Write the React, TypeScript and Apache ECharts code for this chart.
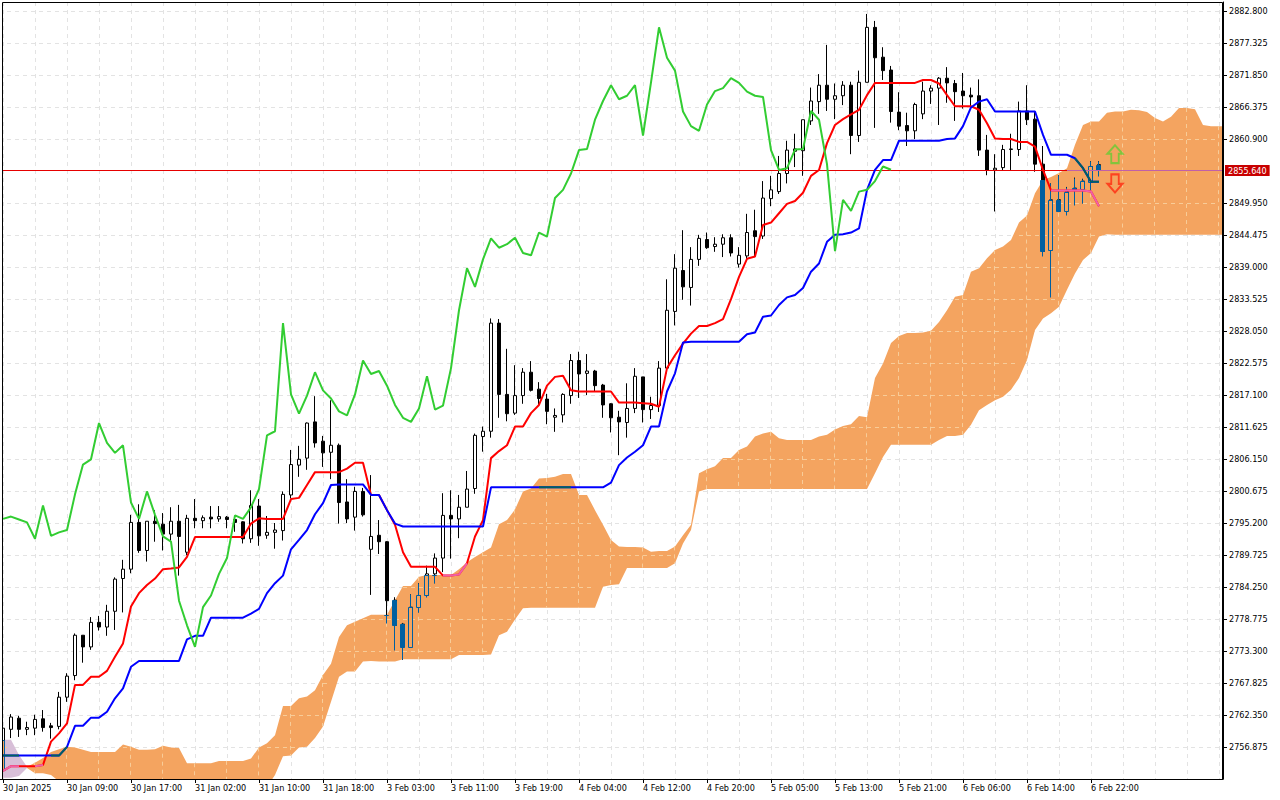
import React, { useEffect, useRef } from "react";
import * as echarts from "echarts";

const xTickLabels = ["30 Jan 2025","30 Jan 09:00","30 Jan 17:00","31 Jan 02:00","31 Jan 10:00","31 Jan 18:00","3 Feb 03:00","3 Feb 11:00","3 Feb 19:00","4 Feb 04:00","4 Feb 12:00","4 Feb 20:00","5 Feb 05:00","5 Feb 13:00","5 Feb 21:00","6 Feb 06:00","6 Feb 14:00","6 Feb 22:00"];
const yTicks = [2882.8,2877.325,2871.85,2866.375,2860.9,2849.95,2844.475,2839,2833.525,2828.05,2822.575,2817.1,2811.625,2806.15,2800.675,2795.2,2789.725,2784.25,2778.775,2773.3,2767.825,2762.35,2756.875];
const lastPrice = 2855.64;

// [open, close, low, high]
const candles = [
[2752.9,2760.1,2752.4,2760.5],[2759.9,2762.0,2758.4,2762.5],[2761.8,2759.9,2758.6,2762.2],[2759.9,2760.2,2758.9,2761.2],[2760.1,2761.6,2758.9,2762.4],[2761.7,2760.2,2759.5,2763.2],[2760.5,2760.2,2758.3,2761.0],[2760.4,2765.4,2759.9,2766.3],[2765.4,2769.0,2764.6,2769.5],[2769.1,2776.0,2768.3,2776.3],
[2776.0,2774.0,2771.3,2776.0],[2774.0,2778.2,2773.5,2779.1],[2778.2,2777.4,2776.8,2779.3],[2777.4,2780.1,2775.9,2781.2],[2780.1,2785.6,2776.9,2785.9],[2785.7,2787.3,2779.9,2788.9],[2787.3,2795.3,2786.6,2796.6],[2795.3,2790.5,2790.1,2798.4],[2790.5,2795.5,2788.6,2795.5],[2795.5,2795.1,2792.0,2797.4],
[2795.0,2793.3,2790.5,2796.9],[2793.3,2795.5,2792.2,2797.9],[2795.5,2792.9,2786.2,2798.3],[2790.2,2796.0,2789.7,2796.6],[2796.0,2795.6,2794.3,2799.3],[2795.6,2796.1,2794.3,2796.5],[2796.2,2795.9,2794.3,2798.1],[2795.9,2796.3,2795.4,2798.1],[2796.2,2795.8,2794.3,2796.4],[2795.8,2795.3,2793.7,2796.1],
[2795.4,2792.5,2791.7,2795.5],[2792.5,2798.2,2791.8,2800.8],[2798.1,2793.0,2791.3,2799.3],[2793.1,2793.6,2792.5,2796.4],[2793.6,2794.0,2790.8,2795.2],[2793.9,2800.1,2792.2,2800.6],[2800.0,2805.2,2799.4,2807.7],[2805.1,2806.1,2803.1,2808.4],[2806.3,2812.3,2804.3,2812.4],[2812.5,2808.9,2808.1,2816.9],
[2809.2,2807.2,2804.8,2810.1],[2807.3,2808.5,2802.7,2816.2],[2808.5,2798.7,2795.1,2808.8],[2798.8,2795.9,2795.2,2802.7],[2796.2,2800.6,2793.9,2801.4],[2800.6,2796.6,2796.3,2801.2],[2790.7,2792.9,2782.9,2803.4],[2793.1,2792.0,2789.9,2795.7],[2792.0,2781.9,2778.1,2792.1],[2782.0,2777.7,2773.5,2782.5],
[2777.9,2774.0,2771.8,2778.1],[2774.0,2780.8,2773.9,2783.0],[2780.8,2782.8,2779.9,2784.9],[2782.8,2786.5,2782.6,2787.9],[2786.5,2789.2,2784.9,2790.0],[2789.2,2796.5,2786.8,2800.3],[2796.5,2795.9,2789.1,2800.8],[2795.9,2797.9,2792.6,2800.0],[2797.9,2801.0,2797.9,2804.1],[2801.1,2810.2,2800.2,2810.5],
[2810.0,2810.9,2807.4,2811.7],[2810.9,2829.4,2809.8,2830.2],[2829.4,2817.2,2813.2,2830.1],[2817.2,2813.9,2812.6,2825.0],[2814.0,2817.0,2813.7,2822.2],[2817.0,2821.0,2815.6,2821.7],[2821.0,2817.9,2817.7,2822.9],[2818.1,2816.5,2815.4,2819.3],[2816.4,2814.3,2812.1,2817.3],[2813.3,2813.6,2810.8,2814.8],
[2813.7,2817.2,2812.4,2817.4],[2817.0,2823.0,2815.6,2824.1],[2823.0,2820.7,2816.6,2824.5],[2820.8,2821.2,2817.1,2824.1],[2821.2,2818.7,2817.7,2821.4],[2818.8,2815.4,2813.2,2819.0],[2815.6,2813.2,2810.7,2815.7],[2813.3,2812.5,2806.8,2814.4],[2812.4,2814.8,2809.8,2819.1],[2814.8,2820.3,2814.0,2821.7],
[2820.2,2814.6,2812.4,2820.2],[2814.6,2815.3,2813.0,2816.8],[2815.3,2821.7,2814.2,2822.9],[2821.7,2831.6,2820.8,2836.9],[2831.4,2838.8,2829.0,2841.2],[2838.4,2835.6,2833.4,2845.3],[2835.5,2840.3,2832.4,2842.4],[2840.3,2843.9,2839.2,2844.5],[2843.7,2842.3,2842.1,2844.9],[2842.5,2842.9,2841.6,2844.1],
[2842.9,2844.0,2840.7,2844.6],[2844.0,2841.4,2840.8,2844.6],[2839.5,2841.0,2838.9,2842.4],[2840.9,2844.9,2840.2,2848.1],[2845.2,2844.2,2840.7,2848.8],[2844.3,2850.8,2843.8,2853.7],[2850.7,2852.2,2849.4,2854.6],[2851.9,2855.0,2851.5,2858.0],[2855.0,2859.0,2853.3,2860.6],[2858.8,2859.2,2856.1,2861.8],
[2858.9,2864.2,2854.6,2864.2],[2864.0,2867.4,2863.3,2869.7],[2867.3,2870.1,2865.2,2872.0],[2870.1,2867.7,2865.7,2877.0],[2867.7,2868.3,2864.3,2870.4],[2868.3,2870.1,2866.7,2870.8],[2870.1,2861.5,2858.3,2870.7],[2861.5,2870.6,2860.4,2872.6],[2870.6,2880.0,2870.6,2882.3],[2880.0,2874.8,2862.8,2881.1],
[2874.9,2872.6,2871.0,2876.6],[2872.7,2865.6,2863.7,2873.4],[2865.5,2863.1,2862.4,2868.9],[2863.2,2862.3,2859.7,2865.4],[2862.3,2866.8,2860.9,2867.1],[2865.2,2869.1,2864.3,2870.7],[2869.1,2869.6,2866.9,2870.1],[2869.6,2871.3,2863.3,2871.5],[2871.3,2870.5,2867.1,2873.2],[2870.4,2869.0,2864.0,2871.0],
[2869.1,2868.3,2866.1,2872.2],[2868.4,2868.1,2866.5,2869.7],[2868.3,2859.0,2858.0,2871.1],[2859.0,2855.6,2854.7,2861.6],[2855.6,2855.9,2848.5,2858.3],[2856.0,2859.1,2855.6,2859.9],[2859.1,2859.2,2855.6,2861.8],[2859.1,2865.7,2858.0,2867.3],[2865.7,2864.2,2863.3,2870.1],[2864.3,2856.6,2855.3,2865.7],
[2856.6,2841.7,2840.9,2859.7],[2841.9,2850.5,2833.9,2853.3],[2850.5,2848.6,2848.6,2854.7],[2848.6,2851.9,2847.9,2852.7],[2852.5,2852.2,2849.6,2854.3],[2852.4,2853.7,2849.9,2854.1],[2853.6,2856.2,2852.2,2857.1],[2856.5,2855.64,2854.6,2857.1],
];

const tenkan = [
2752.8,2753.6,2753.6,2753.6,2753.6,2753.8,2757.8,2759.2,2760.9,2767.5,
2767.5,2768.9,2768.9,2769.9,2772.3,2774.6,2780.9,2783.2,2784.6,2785.7,
2787.3,2787.4,2787.6,2789.4,2792.8,2792.8,2792.8,2792.8,2792.8,2792.8,
2792.8,2795.1,2796.0,2795.9,2795.9,2795.9,2799.3,2799.5,2801.7,2803.9,
2803.9,2803.9,2803.9,2804.5,2805.5,2805.5,2800.0,2800.0,2797.4,2794.9,
2790.2,2787.7,2787.7,2787.7,2787.7,2786.2,2786.2,2786.4,2788.3,2792.9,
2795.7,2806.3,2807.5,2808.5,2811.7,2811.7,2814.0,2815.4,2818.7,2820.2,
2820.4,2817.9,2817.7,2817.7,2817.7,2817.7,2817.7,2815.8,2815.8,2815.8,
2815.7,2815.6,2815.1,2821.7,2823.9,2825.9,2827.6,2828.9,2828.9,2829.4,
2830.1,2833.5,2837.3,2840.4,2840.8,2846.2,2846.6,2848.2,2849.8,2850.3,
2851.7,2854.6,2855.6,2860.2,2863.3,2864.3,2865.1,2865.9,2868.4,2870.5,
2870.5,2870.5,2870.5,2870.5,2870.5,2871.0,2871.0,2870.4,2868.4,2866.5,
2866.5,2866.5,2865.9,2863.6,2861.0,2860.9,2860.9,2860.4,2860.4,2859.6,
2855.6,2852.1,2852.1,2852.1,2852.1,2852.1,2851.9,2849.4,
];

const kijun = [
2755.4,2755.4,2755.4,2755.4,2755.4,2755.4,2755.4,2755.4,2756.9,2760.5,
2760.5,2761.9,2761.9,2762.9,2765.2,2766.9,2770.6,2771.6,2771.6,2771.6,
2771.6,2771.6,2771.6,2775.3,2775.9,2775.9,2779.0,2779.0,2779.0,2779.0,
2779.0,2779.7,2780.5,2783.2,2784.9,2786.2,2790.7,2792.3,2794.0,2796.7,
2798.6,2801.7,2801.8,2801.8,2801.8,2801.8,2800.0,2800.0,2797.4,2795.1,
2794.6,2794.6,2794.6,2794.6,2794.6,2794.6,2794.6,2794.6,2794.6,2794.6,
2794.6,2801.3,2801.3,2801.3,2801.3,2801.3,2801.3,2801.3,2801.3,2801.3,
2801.3,2801.3,2801.3,2801.3,2801.3,2801.3,2802.1,2805.1,2806.4,2807.4,
2808.5,2811.7,2811.7,2817.7,2820.8,2826.1,2826.2,2826.2,2826.2,2826.2,
2826.2,2826.2,2826.2,2827.5,2827.8,2830.5,2830.7,2832.5,2833.8,2834.2,
2835.4,2838.2,2839.6,2843.3,2844.5,2844.6,2844.9,2845.6,2852.2,2855.6,
2857.3,2857.3,2860.6,2860.6,2860.6,2860.6,2860.6,2860.6,2860.9,2861.0,
2863.1,2866.3,2867.3,2867.7,2865.6,2865.6,2865.6,2865.6,2865.6,2865.6,
2861.6,2858.2,2858.2,2858.2,2857.6,2855.9,2853.6,2853.6,
];

const chikou = [
2795.9,2796.3,2795.8,2795.3,2792.5,2798.2,2793.0,2793.6,2794.0,2800.1,
2805.2,2806.1,2812.3,2808.9,2807.2,2808.5,2798.7,2795.9,2800.6,2796.6,
2792.9,2792.0,2781.9,2777.7,2774.0,2780.8,2782.8,2786.5,2789.2,2796.5,
2795.9,2797.9,2801.0,2810.2,2810.9,2829.4,2817.2,2813.9,2817.0,2821.0,
2817.9,2816.5,2814.3,2813.6,2817.2,2823.0,2820.7,2821.2,2818.7,2815.4,
2813.2,2812.5,2814.8,2820.3,2814.6,2815.3,2821.7,2831.6,2838.8,2835.6,
2840.3,2843.9,2842.3,2842.9,2844.0,2841.4,2841.0,2844.9,2844.2,2850.8,
2852.2,2855.0,2859.0,2859.2,2864.2,2867.4,2870.1,2867.7,2868.3,2870.1,
2861.5,2870.6,2880.0,2874.8,2872.6,2865.6,2863.1,2862.3,2866.8,2869.1,
2869.6,2871.3,2870.5,2869.0,2868.3,2868.1,2859.0,2855.6,2855.9,2859.1,
2859.2,2865.7,2864.2,2856.6,2841.7,2850.5,2848.6,2851.9,2852.2,2853.7,
2856.2,2855.64,
];

const cloudTop = [
2758.1,2758.1,2755.5,2753.5,2754.2,2755.0,2756.0,2756.5,2756.9,2756.8,
2756.4,2756.0,2756.0,2756.0,2756.0,2757.3,2756.9,2756.4,2756.4,2756.5,
2757.1,2756.8,2756.7,2754.1,2754.1,2754.1,2754.1,2754.5,2754.5,2754.5,
2754.5,2754.9,2756.8,2757.5,2758.9,2763.9,2763.9,2765.2,2765.5,2766.6,
2769.2,2771.1,2775.7,2777.7,2778.3,2778.9,2779.5,2779.5,2779.5,2782.0,
2784.4,2784.4,2786.0,2786.3,2786.3,2786.3,2786.3,2787.3,2788.5,2789.4,
2790.2,2791.0,2795.0,2795.7,2797.5,2800.6,2801.1,2802.8,2802.9,2803.1,
2803.6,2803.6,2800.0,2800.0,2797.4,2794.9,2792.3,2791.2,2791.1,2791.1,
2791.0,2790.3,2790.4,2790.4,2791.2,2793.1,2794.9,2803.7,2804.4,2804.9,
2806.3,2806.3,2807.7,2808.3,2810.0,2810.5,2810.8,2809.7,2809.4,2809.4,
2809.4,2809.4,2810.0,2810.3,2811.2,2811.8,2812.1,2813.5,2813.3,2820.0,
2822.5,2826.0,2827.2,2827.7,2827.7,2827.8,2828.1,2829.6,2831.6,2833.9,
2834.2,2838.2,2838.8,2840.5,2841.9,2842.5,2843.6,2846.6,2847.8,2851.6,
2853.9,2854.4,2855.1,2855.9,2859.9,2863.3,2863.9,2863.9,2865.4,2865.6,
2865.6,2865.9,2865.8,2865.5,2864.5,2863.9,2864.7,2866.2,2866.2,2866.0,
2863.3,2863.1,2863.1,
];

const cloudBottom = [
2751.6,2751.6,2751.9,2753.3,2752.4,2752.4,2752.1,2751.0,2750.0,2750.0,
2750.0,2750.0,2750.0,2750.0,2750.0,2750.0,2750.0,2750.0,2750.0,2750.0,
2750.0,2750.0,2750.0,2750.0,2750.0,2750.0,2750.0,2750.0,2750.0,2750.0,
2750.0,2750.0,2750.0,2750.0,2752.1,2755.3,2755.4,2756.8,2756.9,2758.4,
2760.4,2764.6,2768.9,2769.8,2769.8,2771.5,2771.6,2771.5,2771.5,2771.5,
2771.9,2771.9,2771.9,2771.9,2771.9,2771.9,2771.9,2772.6,2772.6,2772.6,
2772.6,2772.7,2776.0,2776.6,2778.7,2780.6,2780.7,2780.7,2780.7,2780.7,
2780.7,2780.7,2780.7,2780.7,2780.7,2784.3,2784.6,2784.7,2787.5,2787.5,
2787.5,2787.5,2787.5,2787.5,2788.3,2791.7,2794.0,2800.6,2801.0,2801.0,
2801.0,2801.0,2801.0,2801.0,2801.0,2801.0,2801.0,2801.0,2801.0,2801.0,
2801.0,2801.0,2801.0,2801.0,2801.0,2801.0,2801.0,2801.0,2801.0,2803.7,
2806.5,2808.6,2808.6,2808.6,2808.6,2808.6,2808.6,2809.4,2810.1,2810.1,
2810.3,2812.0,2814.5,2815.4,2816.2,2816.8,2818.0,2820.0,2823.1,2828.2,
2830.2,2831.1,2832.2,2835.1,2837.9,2840.2,2841.4,2844.2,2844.6,2844.5,
2844.5,2844.5,2844.5,2844.5,2844.5,2844.5,2844.5,2844.5,2844.5,2844.5,
2844.5,2844.5,2844.5,
];

const arrowUp = [139, 2858.3];
const arrowDown = [139, 2853.3];

const FONT = "'DejaVu Sans Condensed', 'DejaVu Sans', sans-serif";
const CLOUD_UP = "#F4A460";
const CLOUD_DOWN = "#D8BFD8";
const BLEND_BLUE = "#005FA0";
const PRICE_RED = "#e60000";
const PRICE_BLEND = "#C060A8";
const TWIST_INDEX = 3;

const BARS = cloudTop.length;
const categories = Array.from({ length: BARS }, (_, i) =>
  i % 8 === 0 && xTickLabels[i / 8] ? xTickLabels[i / 8] : ""
);
const inCloud = (i: number, v: number) => v <= cloudTop[i] && v >= cloudBottom[i];
const insideOnly = (vals: number[]) => vals.map((v, i) => (inCloud(i, v) ? v : null));

const candleOverlap = candles
  .map(([o, c, l, h], i) => {
    const top = cloudTop[i];
    const bot = cloudBottom[i];
    if (h <= bot || l >= top) return null;
    const clamp = (v: number) => Math.min(top, Math.max(bot, v));
    return [i, clamp(o), clamp(c), clamp(l), clamp(h), c >= o ? 1 : 0];
  })
  .filter(Boolean) as number[][];

const crisp = (v: number) => Math.round(v) + 0.5;
const crispX = (v: number) => Math.round(v) - 0.5;
const firstCloudIndex = categories.findIndex((_, i) => i > 100 && inCloud(i, lastPrice));

function makeOption() {
  return {
    animation: false,
    backgroundColor: "#fff",
    grid: { left: -1, top: 2, width: 1224, height: 777, show: false, outerBoundsMode: "none", containLabel: false },
    xAxis: {
      type: "category",
      data: categories,
      boundaryGap: true,
      axisLine: { show: true, lineStyle: { color: "#000", width: 1 } },
      axisTick: {
        show: true,
        alignWithLabel: true,
        length: 4,
        interval: (i: number) => i % 8 === 0 && i <= 136,
        lineStyle: { color: "#000" },
      },
      axisLabel: {
        show: true,
        interval: (i: number) => i % 8 === 0 && i <= 136,
        align: "left",
        margin: 4,
        fontSize: 9,
        fontFamily: FONT,
        color: "#000",
      },
      splitLine: {
        show: true,
        alignWithLabel: true,
        interval: (i: number) => i % 4 === 0,
        lineStyle: { color: "#e3e3e3", width: 1, type: [4, 4] },
      },
    },
    yAxis: {
      type: "value",
      position: "right",
      min: 2751.4,
      max: 2884.34,
      interval: 5.475,
      scale: true,
      axisLine: { show: true, lineStyle: { color: "#000", width: 1 } },
      axisTick: { show: true, length: 4, customValues: yTicks, lineStyle: { color: "#000" } },
      axisLabel: {
        show: true,
        customValues: yTicks,
        margin: 6,
        fontSize: 9,
        fontFamily: FONT,
        color: "#000",
        formatter: (v: number) => v.toFixed(3),
      },
      splitLine: { show: true, lineStyle: { color: "#e3e3e3", width: 1, type: [4, 4] } },
    },
    graphic: [
      { type: "rect", z: 100, shape: { x: 0, y: 0, width: 2, height: 779 }, style: { fill: "#fff" } },
      { type: "rect", z: 101, shape: { x: 2.5, y: 2.5, width: 1220, height: 777 }, style: { fill: "none", stroke: "#000", lineWidth: 1 } },
    ],
    series: [
      {
        name: "Cloud",
        type: "custom",
        clip: true,
        z: 1,
        data: [[0, cloudTop[0], cloudBottom[0]]],
        encode: { x: 0, y: [1, 2] },
        silent: true,
        renderItem: (_p: any, api: any) => {
          const poly = (from: number, to: number, fill: string) => {
            const pts: number[][] = [];
            for (let i = from; i <= to; i++) pts.push(api.coord([i, cloudTop[i]]));
            const right = pts[pts.length - 1];
            if (to === BARS - 1) pts.push([right[0] + 4, right[1]], [right[0] + 4, api.coord([to, cloudBottom[to]])[1]]);
            for (let i = to; i >= from; i--) pts.push(api.coord([i, cloudBottom[i]]));
            return { type: "polygon", shape: { points: pts }, style: { fill, stroke: "none" } };
          };
          return {
            type: "group",
            children: [poly(0, TWIST_INDEX, CLOUD_DOWN), poly(TWIST_INDEX, BARS - 1, CLOUD_UP)],
          };
        },
      },
      {
        name: "Grid in cloud",
        type: "custom",
        clip: true,
        z: 1.5,
        data: [[0, cloudTop[0]]],
        encode: { x: 0, y: 1 },
        silent: true,
        renderItem: (_p: any, api: any) => {
          const children: any[] = [];
          const style = { stroke: "#F8CC98", lineWidth: 1, lineDash: [4, 4], fill: "none" };
          for (let i = 0; i < BARS - 1; i++) {
            for (const t of yTicks) {
              if (inCloud(i, t) && inCloud(i + 1, t)) {
                const a = api.coord([i, t]);
                const b = api.coord([i + 1, t]);
                children.push({ type: "line", shape: { x1: a[0], y1: crisp(a[1]), x2: b[0], y2: crisp(a[1]) }, style });
              }
            }
          }
          for (let i = 4; i < BARS; i += 4) {
            const a = api.coord([i, cloudTop[i]]);
            const b = api.coord([i, Math.max(cloudBottom[i], 2751.4)]);
            children.push({ type: "line", shape: { x1: crispX(a[0]), y1: a[1], x2: crispX(a[0]), y2: b[1] }, style });
          }
          return { type: "group", children };
        },
      },
      {
        name: "Price",
        type: "candlestick",
        data: candles,
        barWidth: 4,
        clip: true,
        z: 2,
        silent: true,
        itemStyle: { color: "#fff", color0: "#000", borderColor: "#000", borderColor0: "#000", borderWidth: 1 },
      },
      {
        name: "Price in cloud",
        type: "custom",
        clip: true,
        z: 3,
        data: [[0, candles[0][0]]],
        encode: { x: 0, y: 1 },
        silent: true,
        renderItem: (_p: any, api: any) => {
          const children: any[] = [];
          for (const r of candleOverlap) {
            const cx = crispX(api.coord([r[0], r[1]])[0]);
            const yO = crisp(api.coord([r[0], r[1]])[1]);
            const yC = crisp(api.coord([r[0], r[2]])[1]);
            const yL = crisp(api.coord([r[0], r[3]])[1]);
            const yH = crisp(api.coord([r[0], r[4]])[1]);
            const top = Math.min(yO, yC);
            const bottom = Math.max(yO, yC);
            children.push({ type: "line", shape: { x1: cx, y1: yH, x2: cx, y2: top }, style: { stroke: BLEND_BLUE, lineWidth: 1 } });
            children.push({ type: "line", shape: { x1: cx, y1: bottom, x2: cx, y2: yL }, style: { stroke: BLEND_BLUE, lineWidth: 1 } });
            children.push({
              type: "rect",
              shape: { x: cx - 2, y: top, width: 4, height: Math.max(bottom - top, 0) },
              style: { fill: r[5] ? CLOUD_UP : BLEND_BLUE, stroke: BLEND_BLUE, lineWidth: 1 },
            });
          }
          return { type: "group", children };
        },
      },
      {
        name: "Last price",
        type: "custom",
        z: 3.5,
        data: [[0, lastPrice]],
        encode: { x: 0, y: 1 },
        silent: true,
        renderItem: (_p: any, api: any) => {
          const y = crisp(api.coord([0, lastPrice])[1]);
          const xLeft = api.coord([0, lastPrice])[0];
          const xEnd = api.coord([BARS - 1, lastPrice])[0] + 4;
          const xBlend = api.coord([firstCloudIndex, lastPrice])[0];
          return {
            type: "group",
            children: [
              { type: "line", shape: { x1: xLeft, y1: y, x2: xBlend, y2: y }, style: { stroke: PRICE_RED, lineWidth: 1 } },
              { type: "line", shape: { x1: xBlend, y1: y, x2: xEnd - 1, y2: y }, style: { stroke: PRICE_BLEND, lineWidth: 1 } },
              {
                type: "text",
                x: xEnd + 2,
                y,
                style: {
                  text: lastPrice.toFixed(3),
                  fill: "#fff",
                  backgroundColor: "#c80000",
                  padding: [1, 3, 1, 3],
                  fontSize: 9,
                  fontFamily: FONT,
                  align: "left",
                  verticalAlign: "middle",
                },
              },
            ],
          };
        },
      },
      { name: "Tenkan", type: "line", z: 4, data: tenkan, showSymbol: false, silent: true, lineStyle: { color: "#ff0000", width: 2 } },
      { name: "Kijun", type: "line", z: 4, data: kijun, showSymbol: false, silent: true, lineStyle: { color: "#0000ff", width: 2 } },
      { name: "Chikou", type: "line", z: 4, data: chikou, showSymbol: false, silent: true, lineStyle: { color: "#32CD32", width: 2 } },
      { name: "Tenkan in cloud", type: "line", z: 4, data: insideOnly(tenkan), showSymbol: false, silent: true, lineStyle: { color: "#F060A8", width: 2 } },
      { name: "Kijun in cloud", type: "line", z: 4, data: insideOnly(kijun), showSymbol: false, silent: true, lineStyle: { color: "#006060", width: 2 } },
      {
        name: "Buy signal",
        type: "scatter",
        z: 5,
        data: [arrowUp],
        silent: true,
        symbol: "path://M8 0 L16 9 L12 9 L12 19 L4 19 L4 9 L0 9 Z",
        symbolSize: [15, 18],
        itemStyle: { color: "rgba(0,0,0,0)", borderColor: "#66CC33", borderWidth: 2 },
      },
      {
        name: "Sell signal",
        type: "scatter",
        z: 5,
        data: [arrowDown],
        silent: true,
        symbol: "path://M4 0 L12 0 L12 10 L16 10 L8 19 L0 10 L4 10 Z",
        symbolSize: [15, 18],
        itemStyle: { color: "rgba(0,0,0,0)", borderColor: "#FF2A10", borderWidth: 2 },
      },
    ],
  };
}

export default function App() {
  const ref = useRef<HTMLDivElement>(null);
  useEffect(() => {
    document.body.style.margin = "0";
    const chart = echarts.init(ref.current!, undefined, { renderer: "svg", width: 1280, height: 800 });
    chart.setOption(makeOption() as any);
    return () => chart.dispose();
  }, []);
  return <div ref={ref} style={{ position: "absolute", left: 0, top: 0, width: 1280, height: 800, background: "#fff" }} />;
}
